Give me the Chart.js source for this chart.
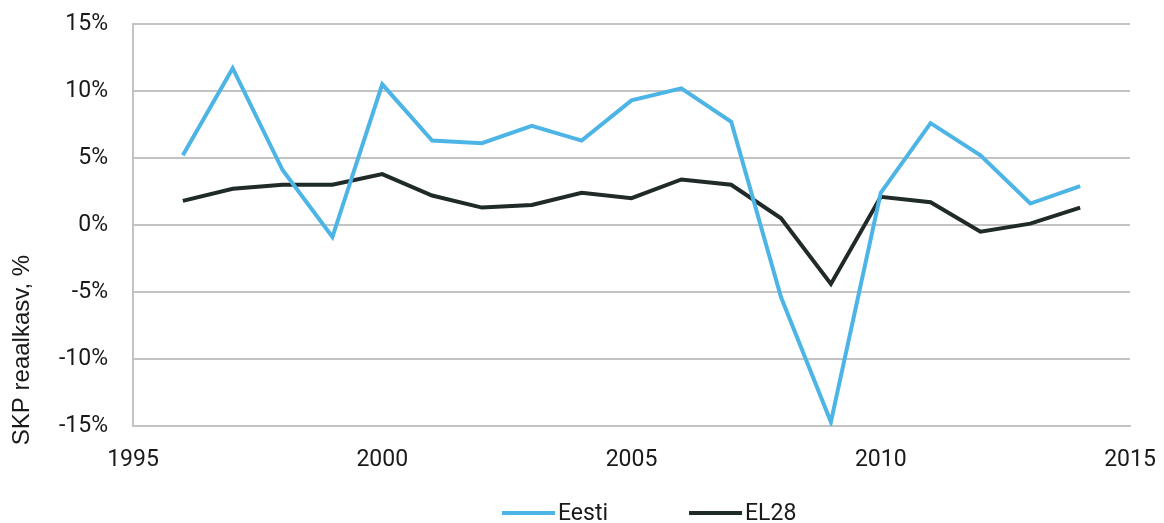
<!DOCTYPE html>
<html>
<head>
<meta charset="utf-8">
<script src="https://cdn.jsdelivr.net/npm/chart.js@4/dist/chart.umd.min.js"></script>
<style>
  html, body { margin: 0; padding: 0; background: #ffffff; }
  #wrap { width: 1164px; height: 523px; position: relative; }
</style>
</head>
<body>
<div id="wrap"><canvas id="c"></canvas></div>
<script>
// SKP reaalkasv aastate kaupa
const years = [1996, 1997, 1998, 1999, 2000, 2001, 2002, 2003, 2004, 2005,
               2006, 2007, 2008, 2009, 2010, 2011, 2012, 2013, 2014];
const eesti = [5.2, 11.7, 4.1, -0.9, 10.5, 6.3, 6.1, 7.4, 6.3, 9.3,
               10.2, 7.7, -5.4, -14.7, 2.4, 7.6, 5.2, 1.6, 2.9];
const el28  = [1.8, 2.7, 3.0, 3.0, 3.8, 2.2, 1.3, 1.5, 2.4, 2.0,
               3.4, 3.0, 0.5, -4.4, 2.1, 1.7, -0.5, 0.1, 1.3];
const seriesNames = ['Eesti', 'EL28'];
const yTicks = [-15, -10, -5, 0, 5, 10, 15];
const xTicks = [1995, 2000, 2005, 2010, 2015];
const yTitle = 'SKP reaalkasv, %';

const BLUE = '#4db4e6';
const DARK = '#1f2a29';
const GRID = '#c3c3c3';
const TEXT = '#1a1a1a';
const FONT = 'Roboto, "Noto Sans", sans-serif';

const toPoints = vals => years.map((yr, i) => ({ x: yr, y: vals[i] }));

// y-telje pealkiri ja legend joonistatakse käsitsi
const extras = {
  id: 'extras',
  afterDraw(chart) {
    const ctx = chart.ctx;
    ctx.save();
    ctx.fillStyle = TEXT;
    ctx.font = '24px "Liberation Sans", Arial, sans-serif';
    ctx.textAlign = 'center';
    ctx.textBaseline = 'middle';
    ctx.translate(22, 350);
    ctx.rotate(-Math.PI / 2);
    ctx.fillText(yTitle, 0, 0);
    ctx.restore();

    ctx.save();
    ctx.font = '23px ' + FONT;
    ctx.textBaseline = 'middle';
    ctx.textAlign = 'left';
    const ly = 513;
    let lx = 502;
    chart.data.datasets.forEach((ds, i) => {
      ctx.strokeStyle = ds.borderColor;
      ctx.lineWidth = 4;
      ctx.beginPath();
      ctx.moveTo(lx, ly);
      ctx.lineTo(lx + 53, ly);
      ctx.stroke();
      ctx.fillStyle = TEXT;
      ctx.fillText(ds.label, lx + 56, ly + 1);
      const w = ctx.measureText(ds.label).width;
      lx += 56 + w + 81;
    });
    ctx.restore();
  }
};

new Chart(document.getElementById('c'), {
  type: 'line',
  data: {
    datasets: [
      { label: seriesNames[0], data: toPoints(eesti), borderColor: BLUE, backgroundColor: BLUE,
        borderWidth: 4, pointRadius: 0, tension: 0 },
      { label: seriesNames[1], data: toPoints(el28), borderColor: DARK, backgroundColor: DARK,
        borderWidth: 4, pointRadius: 0, tension: 0 }
    ]
  },
  options: {
    responsive: true,
    maintainAspectRatio: false,
    animation: false,
    layout: { padding: { left: 0, right: 34, top: 24, bottom: 0 } },
    plugins: { legend: { display: false }, tooltip: { enabled: false } },
    scales: {
      x: {
        type: 'linear',
        min: 1995, max: 2015,
        afterBuildTicks(scale) { scale.ticks = xTicks.map(v => ({ value: v })); },
        afterFit(scale) {
          scale.height = 97;
          scale.paddingLeft = 0;
          scale.paddingRight = 0;
        },
        grid: { display: false, drawTicks: false },
        border: { display: true, color: GRID, width: 2 },
        ticks: {
          color: TEXT, font: { family: FONT, size: 23 }, padding: 20,
          maxRotation: 0, autoSkip: false,
          callback: v => String(v)
        }
      },
      y: {
        min: -15, max: 15,
        afterBuildTicks(scale) { scale.ticks = yTicks.map(v => ({ value: v })); },
        afterFit(scale) {
          scale.width = 133;
          scale.paddingTop = 0;
          scale.paddingBottom = 0;
        },
        grid: { color: GRID, lineWidth: 2, drawTicks: false },
        border: { display: true, color: GRID, width: 2 },
        ticks: {
          color: TEXT, font: { family: FONT, size: 23 }, padding: 25,
          callback: v => v + '%'
        }
      }
    }
  },
  plugins: [extras]
});
</script>
</body>
</html>
